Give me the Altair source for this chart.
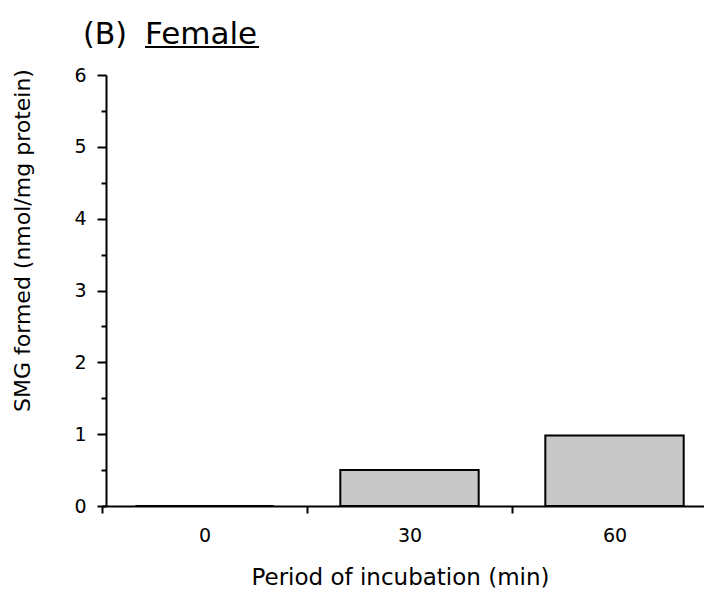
import altair as alt
import pandas as pd

# Data
periods = ["0", "30", "60"]
smg_formed = [0.0, 0.5, 0.98]
y_ticks = [0, 0.5, 1, 1.5, 2, 2.5, 3, 3.5, 4, 4.5, 5, 5.5, 6]

df = pd.DataFrame({"period": periods, "smg": smg_formed})

FONT = "DejaVu Sans"

bars = alt.Chart(df).mark_bar(
    fill="#c8c8c8", stroke="black", strokeWidth=2,
    width=alt.RelativeBandSize(0.675)
).encode(
    x=alt.X("period:N", sort=periods,
            scale=alt.Scale(range=[-4, 611], paddingInner=0, paddingOuter=0),
            axis=alt.Axis(title="Period of incubation (min)", labelAngle=0,
                          tickBand="extent", tickSize=7, tickWidth=2,
                          tickColor="black", domainColor="black", domainWidth=2,
                          labelFont=FONT, labelFontSize=19, labelColor="black",
                          labelPadding=22, labelBaseline="middle",
                          titleFont=FONT, titleFontSize=23, titleFontWeight="normal",
                          titleColor="black", titleX=294, titleY=71,
                          titleBaseline="middle", titleAlign="center", grid=False)),
    y=alt.Y("smg:Q",
            scale=alt.Scale(domain=[0, 6], nice=False),
            axis=alt.Axis(title="SMG formed (nmol/mg protein)", values=y_ticks,
                          labelExpr="datum.value % 1 === 0 ? format(datum.value, 'd') : ''",
                          tickSize={"condition": {"test": "datum.value % 1 === 0", "value": 9}, "value": 5},
                          tickWidth=2, tickColor="black", domainColor="black", domainWidth=2,
                          labelFont=FONT, labelFontSize=19, labelColor="black",
                          labelPadding=11,
                          titleFont=FONT, titleFontSize=22, titleFontWeight="normal",
                          titleColor="black", titleX=-84, titleY=165, titleAngle=-90,
                          titleAlign="center", titleBaseline="middle", grid=False)),
)

label_b = alt.Chart(pd.DataFrame({"t": ["(B)"]})).mark_text(
    font=FONT, fontSize=30, align="left", baseline="alphabetic", color="black"
).encode(text="t:N", x=alt.value(-23), y=alt.value(-31))

label_f = alt.Chart(pd.DataFrame({"t": ["Female"]})).mark_text(
    font=FONT, fontSize=31, align="left", baseline="alphabetic", color="black"
).encode(text="t:N", x=alt.value(39), y=alt.value(-31))

underline = alt.Chart(pd.DataFrame({"t": ["Female"]})).mark_rule(
    color="black", strokeWidth=2
).encode(x=alt.value(39), x2=alt.value(153), y=alt.value(-28))

chart = alt.layer(bars, label_b, label_f, underline).properties(
    width=598, height=431,
    autosize=alt.AutoSizeParams(type="none"),
    padding={"left": 98, "top": 67, "right": 0, "bottom": 85},
).configure_view(stroke=None)

chart.save("out.html", embed_options={"renderer": "svg", "actions": False})
